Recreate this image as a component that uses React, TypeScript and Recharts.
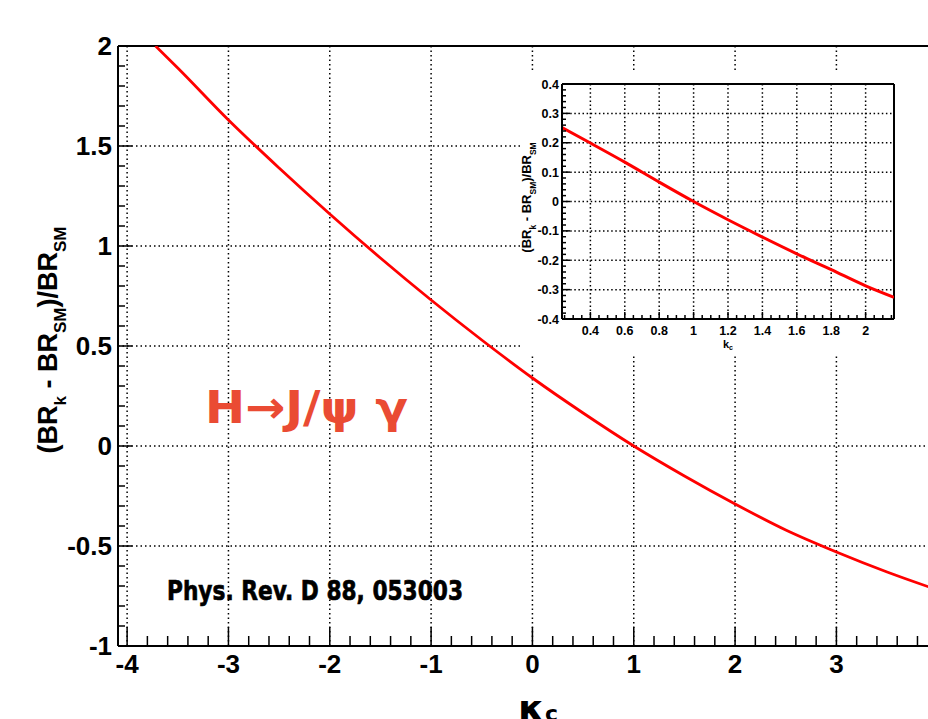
import React from 'react';
import { LineChart, Line, XAxis, YAxis, CartesianGrid, ReferenceLine, Label } from 'recharts';

// main panel: relative shift of BR(H -> J/psi gamma) vs kappa_c
const MAIN_K = [-3.72, -3.5, -3, -2.5, -2, -1.5, -1, -0.5, 0, 0.5, 1, 1.5, 2, 2.5, 3, 3.5, 4, 4.2];
const MAIN_DELTA = [2.0, 1.89, 1.63, 1.39, 1.16, 0.94, 0.73, 0.53, 0.34, 0.165, 0.0, -0.15, -0.29, -0.42, -0.53, -0.63, -0.72, -0.755];
const MAIN_X_TICKS = [-4, -3, -2, -1, 0, 1, 2, 3];
const MAIN_Y_TICKS = [-1, -0.5, 0, 0.5, 1, 1.5, 2];

// inset: zoom around the SM point
const INSET_K = [0.235, 0.4, 0.6, 0.8, 1, 1.2, 1.4, 1.6, 1.8, 2, 2.165];
const INSET_DELTA = [0.252, 0.199, 0.134, 0.066, 0, -0.062, -0.121, -0.178, -0.232, -0.287, -0.326];
const INSET_X_TICKS = [0.4, 0.6, 0.8, 1, 1.2, 1.4, 1.6, 1.8, 2];
const INSET_Y_TICKS = [-0.4, -0.3, -0.2, -0.1, 0, 0.1, 0.2, 0.3, 0.4];

const PROCESS_LABEL = 'H\u2192J/\u03c8 \u03b3';
const REFERENCE_LABEL = 'Phys. Rev. D 88, 053003';

const FONT = "'Liberation Sans', Arial, Helvetica, sans-serif";
const RED = '#ff0000';

// minor tick positions (axis decoration only)
const steps = (a: number, b: number, s: number) => {
  const out: number[] = [];
  for (let v = a; v <= b + 1e-9; v += s) out.push(Math.round(v * 1000) / 1000);
  return out;
};
const MAIN_X_MINOR = steps(-4, 4.2, 0.2);
const MAIN_Y_MINOR = steps(-1, 2, 0.1);
const INSET_X_MINOR = steps(0.25, 2.15, 0.05);
const INSET_Y_MINOR = steps(-0.4, 0.4, 0.02);

const isMajor = (v: number, list: number[]) => list.some((t) => Math.abs(t - v) < 1e-6);

const mainData = MAIN_K.map((k, i) => ({ k, v: MAIN_DELTA[i] }));
const insetData = INSET_K.map((k, i) => ({ k, v: INSET_DELTA[i] }));

// ROOT style: ticks point into the frame
function XTick(props: any) {
  const { x, y, payload, majors, big, small, size, dy } = props;
  const major = isMajor(payload.value, majors);
  return (
    <g>
      <line x1={x} x2={x} y1={y} y2={y - (major ? big : small)} stroke="#000" strokeWidth={1.5} />
      {major && (
        <text x={x} y={y + dy} textAnchor="middle" fontSize={size} fontWeight="bold" fontFamily={FONT} fill="#000">
          {payload.value}
        </text>
      )}
    </g>
  );
}

function YTick(props: any) {
  const { x, y, payload, majors, big, small, size, gap } = props;
  const major = isMajor(payload.value, majors);
  return (
    <g>
      <line x1={x} x2={x + (major ? big : small)} y1={y} y2={y} stroke="#000" strokeWidth={1.5} />
      {major && (
        <text x={x - gap} y={y + size * 0.36} textAnchor="end" fontSize={size} fontWeight="bold" fontFamily={FONT} fill="#000">
          {payload.value}
        </text>
      )}
    </g>
  );
}

function RatioTitle({ cx, cy, size, sub, shift }: { cx: number; cy: number; size: number; sub: number; shift: number }) {
  return (
    <text
      x={cx}
      y={cy}
      transform={`rotate(-90, ${cx}, ${cy})`}
      textAnchor="middle"
      fontSize={size}
      fontWeight="bold"
      fontFamily={FONT}
      fill="#000"
    >
      <tspan>(BR</tspan>
      <tspan fontSize={sub} dy={shift}>k</tspan>
      <tspan dy={-shift}> - BR</tspan>
      <tspan fontSize={sub} dy={shift}>SM</tspan>
      <tspan dy={-shift}>)/BR</tspan>
      <tspan fontSize={sub} dy={shift}>SM</tspan>
    </text>
  );
}

export default function App() {
  return (
    <div style={{ position: 'absolute', left: 0, top: 0, width: 928, height: 719, overflow: 'hidden', background: '#fff' }}>
      {/* main frame */}
      <div style={{ position: 'absolute', left: 0, top: 0 }}>
        <LineChart width={958} height={719} data={mainData} margin={{ top: 46, right: 0, bottom: 33, left: 0 }}>
          <CartesianGrid
            verticalValues={MAIN_X_TICKS}
            horizontalValues={MAIN_Y_TICKS}
            stroke="#000"
            strokeWidth={1.5}
            strokeDasharray="1.5 3"
          />
          <XAxis
            dataKey="k"
            type="number"
            domain={[-4.09, 4.2]}
            allowDataOverflow
            ticks={MAIN_X_MINOR}
            interval={0}
            tickSize={0}
            tickMargin={0}
            tickLine={false}
            height={40}
            axisLine={{ stroke: '#000', strokeWidth: 2 }}
            tick={(p: any) => <XTick {...p} majors={MAIN_X_TICKS} big={19} small={10} size={26} dy={27} />}
          >
            <Label
              content={({ viewBox }: any) => {
                const cx = viewBox.x + viewBox.width / 2;
                const y = viewBox.y + 75;
                return (
                  <text x={cx} y={y} textAnchor="middle" fontFamily="'DejaVu Sans', sans-serif" fontWeight="bold" fill="#000">
                    <tspan fontSize={38}>κ</tspan>
                    <tspan fontSize={22} dy={0}>c</tspan>
                  </text>
                );
              }}
            />
          </XAxis>
          <YAxis
            type="number"
            domain={[-1, 2]}
            allowDataOverflow
            ticks={MAIN_Y_MINOR}
            interval={0}
            tickSize={0}
            tickMargin={0}
            tickLine={false}
            width={118}
            axisLine={{ stroke: '#000', strokeWidth: 2 }}
            tick={(p: any) => <YTick {...p} majors={MAIN_Y_TICKS} big={14} small={7} size={26} gap={6} />}
          >
            <Label
              content={({ viewBox }: any) => (
                <RatioTitle cx={viewBox.x + 57} cy={viewBox.y + viewBox.height / 2 - 6} size={27} sub={17} shift={9} />
              )}
            />
          </YAxis>
          <ReferenceLine y={2} stroke="#000" strokeWidth={2} />
          <Line type="monotone" dataKey="v" stroke={RED} strokeWidth={2.8} dot={false} isAnimationActive={false} />
        </LineChart>
      </div>

      {/* annotations */}
      <svg width={928} height={719} style={{ position: 'absolute', left: 0, top: 0, pointerEvents: 'none' }}>
        <text
          x={205}
          y={423}
          textLength={203}
          lengthAdjust="spacingAndGlyphs"
          fontSize={45}
          fontWeight="bold"
          fontFamily="'DejaVu Sans', sans-serif"
          fill="#ea4b33"
        >
          {PROCESS_LABEL}
        </text>
        <text
          x={167}
          y={600}
          textLength={296}
          lengthAdjust="spacingAndGlyphs"
          fontSize={27}
          fontWeight="bold"
          fontFamily="'DejaVu Sans', sans-serif"
          fill="#000"
          stroke="#000"
          strokeWidth={0.7}
        >
          {REFERENCE_LABEL}
        </text>
      </svg>

      {/* inset pad */}
      <div style={{ position: 'absolute', left: 520, top: 70, width: 408, height: 286, background: '#fff' }} />
      <div style={{ position: 'absolute', left: 505, top: 70 }}>
        <LineChart width={412} height={286} data={insetData} margin={{ top: 14, right: 23, bottom: 7, left: 0 }}>
          <CartesianGrid
            verticalValues={INSET_X_TICKS}
            horizontalValues={INSET_Y_TICKS}
            stroke="#000"
            strokeWidth={1.5}
            strokeDasharray="1.5 2.6"
          />
          <XAxis
            dataKey="k"
            type="number"
            domain={[0.235, 2.165]}
            allowDataOverflow
            ticks={INSET_X_MINOR}
            interval={0}
            tickSize={0}
            tickMargin={0}
            tickLine={false}
            height={30}
            axisLine={{ stroke: '#000', strokeWidth: 2 }}
            tick={(p: any) => <XTick {...p} majors={INSET_X_TICKS} big={7} small={4} size={12.5} dy={16} />}
          >
            <Label
              content={({ viewBox }: any) => {
                const cx = viewBox.x + viewBox.width / 2;
                return (
                  <text x={cx} y={viewBox.y + 29} textAnchor="middle" fontFamily={FONT} fontWeight="bold" fill="#000">
                    <tspan fontSize={11}>k</tspan>
                    <tspan fontSize={7} dy={2}>c</tspan>
                  </text>
                );
              }}
            />
          </XAxis>
          <YAxis
            type="number"
            domain={[-0.4, 0.4]}
            allowDataOverflow
            ticks={INSET_Y_MINOR}
            interval={0}
            tickSize={0}
            tickMargin={0}
            tickLine={false}
            width={57}
            axisLine={{ stroke: '#000', strokeWidth: 2 }}
            tick={(p: any) => <YTick {...p} majors={INSET_Y_TICKS} big={8} small={4} size={12.5} gap={3} />}
          >
            <Label
              content={({ viewBox }: any) => (
                <RatioTitle cx={viewBox.x + 26} cy={viewBox.y + viewBox.height / 2 - 4} size={13} sub={8.5} shift={5} />
              )}
            />
          </YAxis>
          <ReferenceLine y={0.4} stroke="#000" strokeWidth={2} />
          <ReferenceLine x={2.165} stroke="#000" strokeWidth={2} />
          <Line type="monotone" dataKey="v" stroke={RED} strokeWidth={3} dot={false} isAnimationActive={false} />
        </LineChart>
      </div>
    </div>
  );
}
